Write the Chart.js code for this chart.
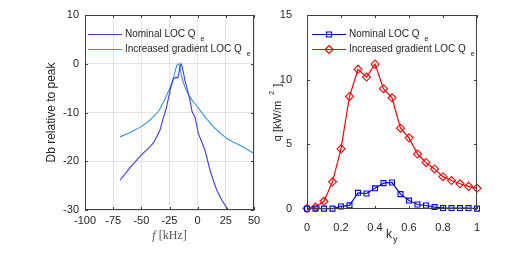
<!DOCTYPE html>
<html>
<head>
<meta charset="utf-8">
<script src="https://cdn.jsdelivr.net/npm/chart.js@4.4.0/dist/chart.umd.min.js"></script>
<style>
  body { margin: 0; background: #fff; }
  #wrap { position: relative; width: 520px; height: 268px; }
  canvas { position: absolute; top: 0; }
</style>
</head>
<body>
<div id="wrap">
  <canvas id="spectrum" width="260" height="268" style="left:0"></canvas>
  <canvas id="flux" width="260" height="268" style="left:260px"></canvas>
</div>
<script>
// left panel: spectra (kHz vs dB relative to peak)
const freqNominal = [-69, -60, -50, -44, -39.4, -36, -33.4, -31, -29, -27.6, -25, -24.6, -21.7, -19.5, -17.5, -16, -14.8, -13.8, -12.5, -11.3, -9, -6.8, -5, -4, -2.4, 0.6, 3.5, 6.5, 10.9, 14, 16.9, 22, 27.2];
const dbNominal = [-23.9, -21.3, -18.7, -17.4, -16.3, -14.8, -13.6, -11.5, -10, -8.9, -6, -5.4, -3.2, -2.8, -2.9, -1, 0, -0.5, -2, -3.4, -5.5, -7.5, -9.8, -10.3, -10.9, -14.3, -16, -17.7, -21.8, -24, -25.9, -28.2, -30];
const freqIncreased = [-69, -60, -50, -44, -39.4, -35, -33.4, -30, -27.6, -25, -23.2, -21, -19.7, -18.5, -17.2, -15.8, -14.5, -12.5, -11.3, -9, -6.8, -4.5, -2.4, 2, 8, 13.8, 20, 25.7, 31, 37.5, 44, 50];
const dbIncreased = [-15, -14.1, -12.9, -11.9, -10.9, -9.8, -9.2, -7.7, -6.5, -5.2, -4.1, -2.5, -1.3, -0.3, 0, -0.4, -2.4, -4, -4.8, -5.9, -6.8, -7.6, -8.2, -9.5, -11.3, -12.9, -14.2, -15.3, -16, -16.7, -17.6, -18.4];

// right panel: flux vs k_y
const kyValues = [0, 0.05, 0.1, 0.15, 0.2, 0.25, 0.3, 0.35, 0.4, 0.45, 0.5, 0.55, 0.6, 0.65, 0.7, 0.75, 0.8, 0.85, 0.9, 0.95, 1.0];
const qNominal = [0.02, 0.03, 0.03, 0.03, 0.2, 0.28, 1.25, 1.2, 1.6, 2.0, 2.05, 1.15, 0.65, 0.35, 0.27, 0.15, 0.08, 0.07, 0.07, 0.07, 0.03];
const qIncreased = [0.05, 0.15, 0.6, 2.1, 4.65, 8.7, 10.8, 10.2, 11.2, 9.3, 8.6, 6.25, 5.5, 4.25, 3.6, 3.1, 2.5, 2.2, 1.95, 1.75, 1.6];

const legendNames = ['Nominal LOC Q', 'Increased gradient LOC Q'];
const axisColor = '#404040';
const textColor = '#262626';
const tickFont = { family: 'Liberation Sans, Arial, sans-serif', size: 11 };

function pairs(xs, ys) {
  return xs.map((x, i) => ({ x: x, y: ys[i] }));
}

function drawMarker(ctx, style, x, y, r) {
  ctx.beginPath();
  if (style === 'rect') {
    ctx.rect(x - r, y - r, 2 * r, 2 * r);
  } else {
    ctx.moveTo(x, y - r);
    ctx.lineTo(x + r, y);
    ctx.lineTo(x, y + r);
    ctx.lineTo(x - r, y);
    ctx.closePath();
  }
  ctx.stroke();
}

// box, inward ticks, legend, axis titles
const framePlugin = {
  id: 'frame',
  afterDraw(chart, args, opts) {
    const ctx = chart.ctx;
    const a = chart.chartArea;
    const xs = chart.scales.x, ys = chart.scales.y;
    ctx.save();
    ctx.strokeStyle = axisColor;
    ctx.lineWidth = 1;
    ctx.strokeRect(a.left + 0.5, a.top + 0.5, a.right - a.left - 1, a.bottom - a.top - 1);
    ctx.beginPath();
    xs.ticks.forEach(t => {
      const p = Math.round(xs.getPixelForValue(t.value)) + 0.5;
      ctx.moveTo(p, a.bottom); ctx.lineTo(p, a.bottom - 3);
      ctx.moveTo(p, a.top); ctx.lineTo(p, a.top + 3);
    });
    ys.ticks.forEach(t => {
      const p = Math.round(ys.getPixelForValue(t.value)) + 0.5;
      ctx.moveTo(a.left, p); ctx.lineTo(a.left + 3, p);
      ctx.moveTo(a.right, p); ctx.lineTo(a.right - 3, p);
    });
    ctx.stroke();

    // legend inside axes
    chart.data.datasets.forEach((ds, i) => {
      const y = opts.legendY[i] + 0.5;
      ctx.strokeStyle = ds.borderColor;
      ctx.lineWidth = 1.2;
      ctx.beginPath();
      ctx.moveTo(opts.legendX, y);
      ctx.lineTo(opts.legendX + 34, y);
      ctx.stroke();
      if (ds.pointStyle && ds.pointRadius > 0) {
        drawMarker(ctx, ds.pointStyle === 'rect' ? 'rect' : 'diamond', opts.legendX + 17, y, ds.pointStyle === 'rect' ? 2.5 : 4);
      }
      ctx.fillStyle = textColor;
      ctx.font = '10px Liberation Sans, Arial, sans-serif';
      ctx.textBaseline = 'middle';
      ctx.textAlign = 'left';
      const label = legendNames[i];
      ctx.fillText(label, opts.legendX + 37, y);
      const w = ctx.measureText(label).width;
      ctx.font = '7px Liberation Sans, Arial, sans-serif';
      ctx.fillText('e', opts.legendX + 37 + w + 5, y + 5);
    });

    // axis titles
    const cx = (a.left + a.right) / 2;
    const cy = (a.top + a.bottom) / 2;
    ctx.fillStyle = textColor;
    ctx.textBaseline = 'middle';
    if (opts.kind === 'spectrum') {
      ctx.save();
      ctx.translate(52, cy);
      ctx.rotate(-Math.PI / 2);
      ctx.textAlign = 'center';
      ctx.font = '12px Liberation Sans, Arial, sans-serif';
      ctx.fillText('Db relative to peak', 0, 0);
      ctx.restore();
      ctx.fillStyle = '#555';
      ctx.font = 'italic 12px Liberation Serif, serif';
      const fw = ctx.measureText('f ').width;
      ctx.font = '12px Liberation Serif, serif';
      const rw = ctx.measureText('[kHz]').width;
      const start = cx - (fw + rw) / 2;
      ctx.textAlign = 'left';
      ctx.font = 'italic 12px Liberation Serif, serif';
      ctx.fillText('f', start, 236);
      ctx.font = '12px Liberation Serif, serif';
      ctx.fillText('[kHz]', start + fw, 236);
    } else {
      ctx.save();
      ctx.translate(18, cy);
      ctx.rotate(-Math.PI / 2);
      ctx.font = '11px Liberation Sans, Arial, sans-serif';
      const t1 = 'q [kW/m';
      const w1 = ctx.measureText(t1).width;
      const total = w1 + 14 + 4;
      ctx.textAlign = 'left';
      ctx.fillText(t1, -total / 2, 0);
      ctx.font = '7px Liberation Sans, Arial, sans-serif';
      ctx.fillText('2', -total / 2 + w1 + 6, -6);
      ctx.font = '11px Liberation Sans, Arial, sans-serif';
      ctx.fillText(']', -total / 2 + w1 + 14, 0);
      ctx.restore();
      ctx.textAlign = 'left';
      ctx.font = '12px Liberation Sans, Arial, sans-serif';
      ctx.fillText('k', cx - 6, 235);
      ctx.font = '9px Liberation Sans, Arial, sans-serif';
      ctx.fillText('y', cx + 1, 240);
    }
    ctx.restore();
  }
};

function fixWidth(w) {
  return s => { s.width = w; };
}
function fixHeight(h) {
  return s => { s.height = h; s.paddingLeft = 0; s.paddingRight = 0; };
}

new Chart(document.getElementById('spectrum'), {
  type: 'scatter',
  data: {
    datasets: [{
      data: pairs(freqNominal, dbNominal),
      showLine: true,
      borderColor: '#3b3bf5',
      borderWidth: 1.1,
      pointRadius: 0
    }, {
      data: pairs(freqIncreased, dbIncreased),
      showLine: true,
      borderColor: '#3596d6',
      borderWidth: 1.1,
      pointRadius: 0
    }]
  },
  options: {
    responsive: false,
    animation: false,
    events: [],
    layout: { padding: { top: 15, right: 6, left: 0, bottom: 0 } },
    plugins: {
      legend: { display: false },
      tooltip: { enabled: false },
      frame: { kind: 'spectrum', legendX: 88, legendY: [34, 49] }
    },
    scales: {
      x: {
        type: 'linear', min: -100, max: 50,
        afterFit: fixHeight(58),
        border: { display: false },
        grid: { color: '#e4e4e4', drawTicks: false },
        ticks: { stepSize: 25, autoSkip: false, maxRotation: 0, padding: 4, color: textColor, font: tickFont }
      },
      y: {
        type: 'linear', min: -30, max: 10,
        afterFit: fixWidth(85),
        border: { display: false },
        grid: { color: '#e4e4e4', drawTicks: false },
        ticks: { stepSize: 10, padding: 6, color: textColor, font: tickFont }
      }
    }
  },
  plugins: [framePlugin]
});

new Chart(document.getElementById('flux'), {
  type: 'line',
  data: {
    datasets: [{
      data: pairs(kyValues, qNominal),
      borderColor: '#0000ff',
      borderWidth: 1.2,
      pointStyle: 'rect',
      pointRadius: 3.5,
      pointBorderWidth: 1.1,
      pointBackgroundColor: 'rgba(0,0,0,0)',
      pointBorderColor: '#0000ff',
      clip: false
    }, {
      data: pairs(kyValues, qIncreased),
      borderColor: '#ff0000',
      borderWidth: 1.2,
      pointStyle: 'rectRot',
      pointRadius: 4,
      pointBorderWidth: 1.1,
      pointBackgroundColor: 'rgba(0,0,0,0)',
      pointBorderColor: '#ff0000',
      clip: false
    }]
  },
  options: {
    responsive: false,
    animation: false,
    events: [],
    layout: { padding: { top: 15, right: 43, left: 0, bottom: 0 } },
    plugins: {
      legend: { display: false },
      tooltip: { enabled: false },
      frame: { kind: 'flux', legendX: 52, legendY: [34, 49] }
    },
    scales: {
      x: {
        type: 'linear', min: 0, max: 1,
        afterFit: fixHeight(59),
        border: { display: false },
        grid: { display: false },
        ticks: {
          stepSize: 0.2, autoSkip: false, maxRotation: 0, padding: 4, color: textColor, font: tickFont,
          callback: v => String(parseFloat(v.toFixed(2)))
        }
      },
      y: {
        type: 'linear', min: 0, max: 15,
        afterFit: fixWidth(47),
        border: { display: false },
        grid: { display: false },
        ticks: { stepSize: 5, padding: 7, color: textColor, font: tickFont }
      }
    }
  },
  plugins: [framePlugin]
});
</script>
</body>
</html>
